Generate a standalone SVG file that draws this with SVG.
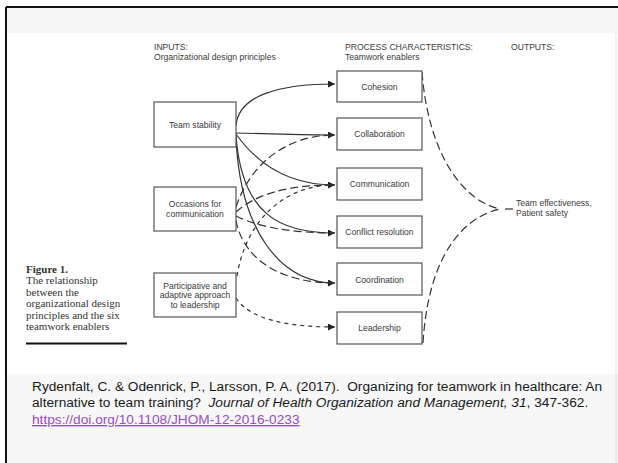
<svg xmlns="http://www.w3.org/2000/svg" width="618" height="463" viewBox="0 0 618 463">
<defs>
<style>
.box{fill:#fff;stroke:#555;stroke-width:1.2}
.lbl{font-family:"Liberation Sans",Arial,sans-serif;font-size:8.6px;fill:#3a3a3a}
.mid{text-anchor:middle}
.solid{fill:none;stroke:#333;stroke-width:1.2}
.ldash{fill:none;stroke:#333;stroke-width:1.2;stroke-dasharray:8 4}
.sdash{fill:none;stroke:#333;stroke-width:1.2;stroke-dasharray:4 4}
.cap{font-family:"Liberation Serif","Times New Roman",serif;font-size:11px;fill:#333}
.cite{font-family:"Liberation Sans",Arial,sans-serif;font-size:13.7px;fill:#1a1a1a}
</style>
<marker id="arr" markerUnits="userSpaceOnUse" markerWidth="8" markerHeight="7" refX="7" refY="3.5" orient="auto">
<path d="M0,0 L7,3.5 L0,7 Z" fill="#222"/>
</marker>
</defs>
<rect x="0" y="0" width="618" height="463" fill="#fff"/>
<rect x="7" y="8" width="611" height="25" fill="#f7f7f7"/>
<rect x="7" y="374" width="611" height="89" fill="#f7f7f7"/>
<line x1="6" y1="7" x2="618" y2="7" stroke="#111" stroke-width="2"/>
<line x1="6" y1="7" x2="6" y2="463" stroke="#111" stroke-width="2"/>
<line x1="616" y1="33" x2="616" y2="463" stroke="#e2e2e2" stroke-width="1"/>

<g id="headers">
<text class="lbl" x="154" y="50">INPUTS:</text>
<text class="lbl" x="154" y="59.5">Organizational design principles</text>
<text class="lbl" x="345" y="50">PROCESS CHARACTERISTICS:</text>
<text class="lbl" x="345" y="59.5">Teamwork enablers</text>
<text class="lbl" x="511" y="50">OUTPUTS:</text>
</g>

<g id="connectors">
<path class="solid" d="M236,126 C238,95 280,84 335,84" marker-end="url(#arr)"/>
<path class="solid" d="M236,133 C280,134 305,135 335,135" marker-end="url(#arr)"/>
<path class="solid" d="M236,134 C258,165 290,185 335,185" marker-end="url(#arr)"/>
<path class="solid" d="M236,136 C242,215 280,233 335,233" marker-end="url(#arr)"/>
<path class="solid" d="M236,138 C240,230 280,283 335,283" marker-end="url(#arr)"/>
<path class="ldash" d="M236,207 C250,165 285,135 335,135"/>
<path class="ldash" d="M236,212 C255,195 285,185 335,185"/>
<path class="ldash" d="M236,216 C260,228 295,233 335,233"/>
<path class="ldash" d="M236,220 C242,255 275,283 335,283"/>
<path class="sdash" d="M237,276 C245,225 280,185 335,185"/>
<path class="sdash" d="M236,298 C250,320 290,327 335,327" marker-end="url(#arr)"/>
<path class="ldash" d="M422,72 C428,150 460,200 500,209"/>
<path class="ldash" d="M423,343 C428,260 460,218 500,209"/>
<line x1="505" y1="209" x2="513" y2="209" stroke="#333" stroke-width="1.2"/>
</g>

<g id="team-stability">
<rect class="box" x="154" y="102" width="82" height="45"/>
<text class="lbl mid" x="195" y="127.5">Team stability</text>
</g>
<g id="occasions">
<rect class="box" x="154" y="187" width="82" height="44"/>
<text class="lbl mid" x="195" y="206.5">Occasions for</text>
<text class="lbl mid" x="195" y="216.5">communication</text>
</g>
<g id="participative">
<rect class="box" x="154" y="273" width="82" height="44"/>
<text class="lbl mid" x="195" y="288.5">Participative and</text>
<text class="lbl mid" x="195" y="298">adaptive approach</text>
<text class="lbl mid" x="195" y="307.5">to leadership</text>
</g>

<g id="cohesion">
<rect class="box" x="337" y="71" width="85" height="31"/>
<text class="lbl mid" x="379.5" y="89.5">Cohesion</text>
</g>
<g id="collaboration">
<rect class="box" x="337" y="118" width="85" height="32"/>
<text class="lbl mid" x="379.5" y="136.5">Collaboration</text>
</g>
<g id="communication">
<rect class="box" x="337" y="168" width="85" height="32"/>
<text class="lbl mid" x="379.5" y="186.5">Communication</text>
</g>
<g id="conflict">
<rect class="box" x="337" y="216" width="85" height="32"/>
<text class="lbl mid" x="379.5" y="235">Conflict resolution</text>
</g>
<g id="coordination">
<rect class="box" x="337" y="263" width="85" height="32"/>
<text class="lbl mid" x="379.5" y="282.5">Coordination</text>
</g>
<g id="leadership">
<rect class="box" x="337" y="312" width="85" height="32"/>
<text class="lbl mid" x="379.5" y="330.8">Leadership</text>
</g>

<g id="outputs">
<text class="lbl" x="516" y="205.5">Team effectiveness,</text>
<text class="lbl" x="516" y="216">Patient safety</text>
</g>

<g id="caption">
<text class="cap" x="26" y="273" font-weight="bold" font-size="11.5">Figure 1.</text>
<text class="cap" x="26" y="284.4">The relationship</text>
<text class="cap" x="26" y="295.8">between the</text>
<text class="cap" x="26" y="307.2">organizational design</text>
<text class="cap" x="26" y="318.6">principles and the six</text>
<text class="cap" x="26" y="330">teamwork enablers</text>
<line x1="26" y1="343.5" x2="127" y2="343.5" stroke="#111" stroke-width="2"/>
</g>

<g id="citation">
<text class="cite" x="32" y="391" xml:space="preserve">Rydenfalt, C. &amp; Odenrick, P., Larsson, P. A. (2017).  Organizing for teamwork in healthcare: An</text>
<text class="cite" x="32" y="407" xml:space="preserve">alternative to team training?  <tspan font-style="italic">Journal of Health Organization and Management, 31</tspan>, 347-362.</text>
<text class="cite" x="32" y="424" text-decoration="underline" style="fill:#954fbf">https://doi.org/10.1108/JHOM-12-2016-0233</text>
</g>
</svg>
